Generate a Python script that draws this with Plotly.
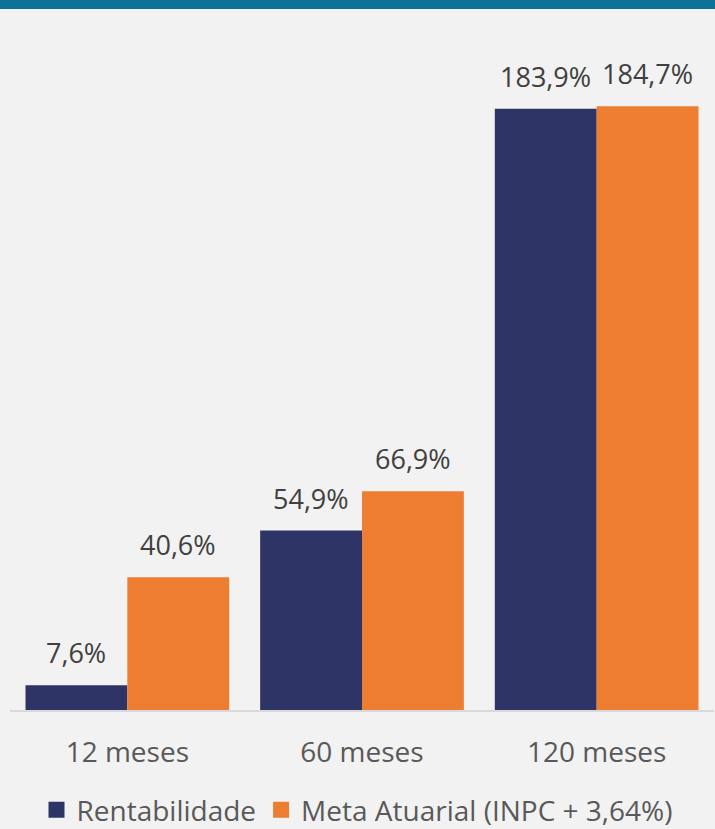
import plotly.graph_objects as go

categories = ["12 meses", "60 meses", "120 meses"]
rentabilidade = [7.6, 54.9, 183.9]
meta_atuarial = [40.6, 66.9, 184.7]
series_names = ["Rentabilidade", "Meta Atuarial (INPC + 3,64%)"]

NAVY = "#2e3566"
ORANGE = "#ed7d31"
TEXT = "#595959"
LABEL = "#404040"
FONT = "Open Sans"

W, H = 715, 829
M_L, M_R, M_T, M_B = 10, 1, 30, 119
BARGAP = 0.132
plot_w = W - M_L - M_R
plot_h = H - M_T - M_B
cat_w = plot_w / len(categories)
bar_w = cat_w * (1 - BARGAP) / 2

fig = go.Figure()
series = [(series_names[0], rentabilidade, NAVY), (series_names[1], meta_atuarial, ORANGE)]
for name, vals, col in series:
    fig.add_trace(go.Bar(
        x=categories, y=vals, name=name, marker=dict(color=col, line=dict(width=0)),
        showlegend=False,
    ))
    # legend proxy
    fig.add_trace(go.Scatter(
        x=[None], y=[None], mode="markers", name=name,
        marker=dict(symbol="square", size=18, color=col),
        showlegend=True,
    ))

# value labels above bars
for j, (name, vals, col) in enumerate(series):
    shift = (j - 0.5) * bar_w
    for c, v in zip(categories, vals):
        fig.add_annotation(
            x=c, y=v, xref="x", yref="y", xshift=shift, yshift=12,
            text=f"{v:.1f}%".replace(".", ","), showarrow=False,
            yanchor="bottom", xanchor="center",
            font=dict(size=27, color=LABEL, family=FONT),
        )

fig.update_layout(
    width=W, height=H,
    paper_bgcolor="#f2f2f2", plot_bgcolor="#f2f2f2",
    separators=",.",
    barmode="group", bargap=BARGAP, bargroupgap=0,
    margin=dict(l=M_L, r=M_R, t=M_T, b=M_B, autoexpand=False),
    font=dict(family=FONT, color=TEXT),
    xaxis=dict(showgrid=False, showline=True, linecolor="#d9d9d9", linewidth=2,
               tickfont=dict(size=28, color=TEXT, family=FONT), ticks="", ticklabelstandoff=16,
               fixedrange=True),
    yaxis=dict(visible=False, range=[0, 208]),
    showlegend=True,
    legend=dict(orientation="h", x=0.5, xanchor="center", xref="container",
                y=(H - 810) / H, yanchor="middle", yref="container",
                font=dict(size=28, color=TEXT, family=FONT), bgcolor="rgba(0,0,0,0)",
                traceorder="normal"),
)
# top band (pixels 0..9 from the top of the page)
band_y0 = (H - M_B - 9) / plot_h
fig.add_shape(type="rect", xref="paper", yref="paper", x0=-0.05, x1=1.05,
              y0=band_y0, y1=1.2, fillcolor="#0b7196", line=dict(width=0), layer="above")

fig.write_html("out.html")
